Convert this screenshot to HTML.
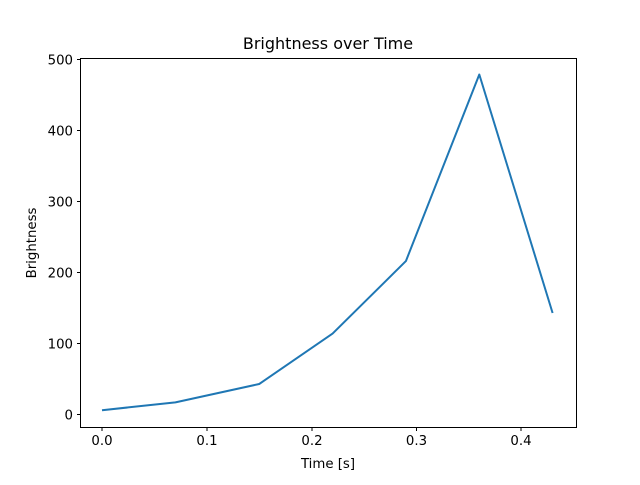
<!DOCTYPE html>
<html><head><style>body{margin:0;background:#fff}</style></head><body>
<svg width="640" height="480" xmlns="http://www.w3.org/2000/svg" font-family="DejaVu Sans, Liberation Sans, sans-serif" font-size="13.3">
<rect width="640" height="480" fill="#fff"/>
<rect x="80.5" y="58.5" width="496" height="369" fill="none" stroke="#000" stroke-width="1"/>
<g stroke="#000" stroke-width="1">
<line x1="102" y1="427.5" x2="102" y2="431"/>
<line x1="207" y1="427.5" x2="207" y2="431"/>
<line x1="312" y1="427.5" x2="312" y2="431"/>
<line x1="416.5" y1="427.5" x2="416.5" y2="431"/>
<line x1="521" y1="427.5" x2="521" y2="431"/>
<line x1="77" y1="414.5" x2="80.5" y2="414.5"/>
<line x1="77" y1="343.5" x2="80.5" y2="343.5"/>
<line x1="77" y1="272.5" x2="80.5" y2="272.5"/>
<line x1="77" y1="201.5" x2="80.5" y2="201.5"/>
<line x1="77" y1="130.5" x2="80.5" y2="130.5"/>
<line x1="77" y1="59.5" x2="80.5" y2="59.5"/>
</g>
<g text-anchor="middle">
<text x="102" y="445">0.0</text>
<text x="207" y="445">0.1</text>
<text x="312" y="445">0.2</text>
<text x="416.5" y="445">0.3</text>
<text x="521" y="445">0.4</text>
<text x="328" y="468">Time [s]</text>
<text x="328" y="49" font-size="16">Brightness over Time</text>
</g>
<g text-anchor="end">
<text x="73" y="419.5">0</text>
<text x="73" y="348.5">100</text>
<text x="73" y="277.5">200</text>
<text x="73" y="206.5">300</text>
<text x="73" y="135.5">400</text>
<text x="73" y="64.5">500</text>
</g>
<text x="0" y="0" text-anchor="middle" transform="translate(36,243) rotate(-90)">Brightness</text>
<polyline fill="none" stroke="#1f77b4" stroke-width="2" stroke-linejoin="round" points="102,410.2 175.4,402.4 259.2,384 332.6,333.6 405.9,261.1 479.3,74.5 552.6,313"/>
</svg>
</body></html>
